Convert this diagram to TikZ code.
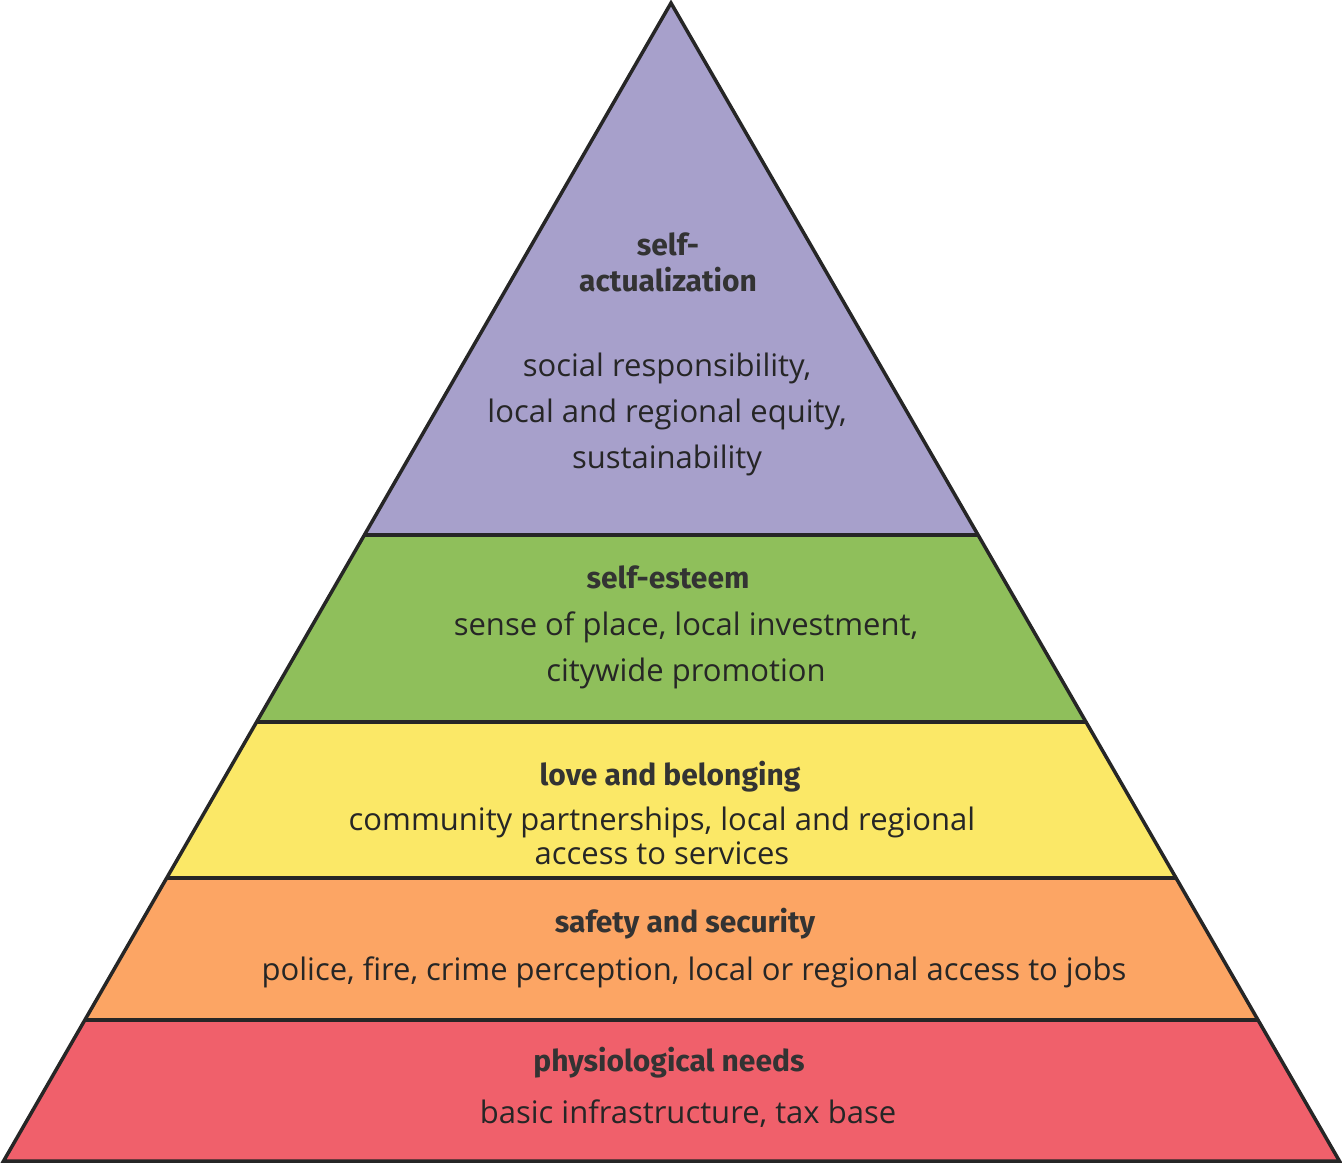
\documentclass[tikz,border=0pt]{standalone}
\usepackage{fontspec}
\setmainfont{Open Sans}
\newfontfamily\headfont{Fira Sans}
\definecolor{cpur}{HTML}{A7A0CB}
\definecolor{cgrn}{HTML}{8FBF5B}
\definecolor{cyel}{HTML}{FBE867}
\definecolor{cora}{HTML}{FCA564}
\definecolor{cred}{HTML}{F0606B}
\tikzset{layer/.style={draw=black!85,line width=3.5pt,line join=miter},
 head/.style={font=\headfont\bfseries\fontsize{30}{32}\selectfont,align=center,text=black!80},
 body/.style={font=\fontsize{31}{46}\selectfont,align=center,text=black!85}}
\begin{document}
\begin{tikzpicture}[x=1pt,y=-1pt]
\useasboundingbox (0,0) rectangle (1342,1164);
\def\L#1{671-(#1-3)/1159*668}
\def\R#1{671+(#1-3)/1159*669}
\fill[cpur] (671,3) -- ({\R{535}},535) -- ({\L{535}},535) -- cycle;
\fill[cgrn] ({\L{535}},535) -- ({\R{535}},535) -- ({\R{722}},722) -- ({\L{722}},722) -- cycle;
\fill[cyel] ({\L{722}},722) -- ({\R{722}},722) -- ({\R{878}},878) -- ({\L{878}},878) -- cycle;
\fill[cora] ({\L{878}},878) -- ({\R{878}},878) -- ({\R{1020}},1020) -- ({\L{1020}},1020) -- cycle;
\fill[cred] ({\L{1020}},1020) -- ({\R{1020}},1020) -- ({\R{1161}},1161) -- ({\L{1161}},1161) -- cycle;
\draw[layer] (671,3) -- ({\R{1161}},1161) -- ({\L{1161}},1161) -- cycle;
\foreach \y in {535,722,878,1020} \draw[layer] ({\L{\y}},\y) -- ({\R{\y}},\y);
\node[head] (h1) at (668,262) {self-\\[4pt]actualization};
\node[body] (b1) at (667,414) {social responsibility,\\local and regional equity,\\sustainability};
\node[head] (h2) at (668,577) {self-esteem};
\node[body] (b2) at (686,650) {sense of place, local investment,\\citywide promotion};
\node[head] (h3) at (670,777) {love and belonging};
\node[body,font=\fontsize{31}{34}\selectfont] (b3) at (662,836) {community partnerships, local and regional\\access to services};
\node[head] (h4) at (685,924) {safety and security};
\node[body] (b4) at (694,972) {police, fire, crime perception, local or regional access to jobs};
\node[head] (h5) at (669,1063) {physiological needs};
\node[body] (b5) at (688,1114) {basic infrastructure, tax base};
\end{tikzpicture}
\end{document}
